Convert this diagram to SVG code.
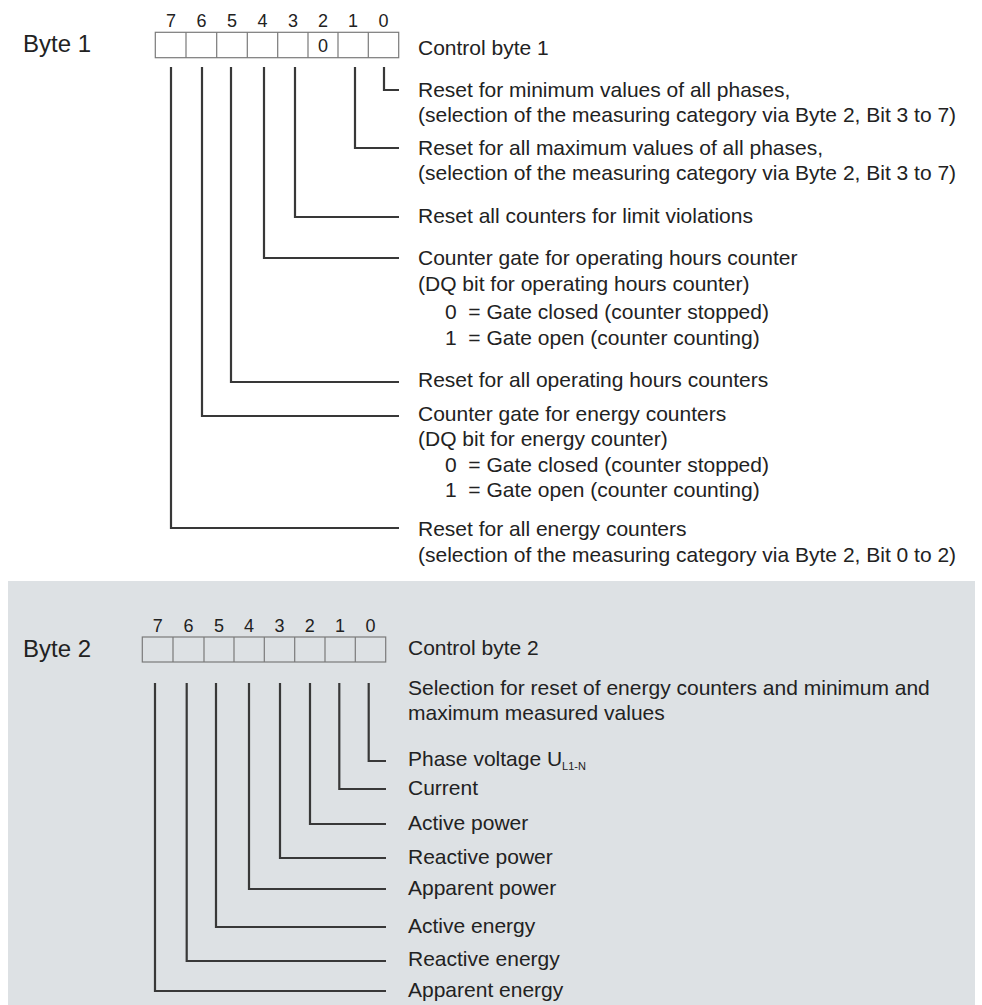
<svg xmlns="http://www.w3.org/2000/svg" width="982" height="1005" viewBox="0 0 982 1005">
<style>
text{font-family:"Liberation Sans",Arial,sans-serif;fill:#222}
.t{font-size:21px}
.b{font-size:24px}
.d{font-size:18px;text-anchor:middle}
.z{font-size:18px;text-anchor:middle}
.sub{font-size:11px}
.box{fill:none;stroke:#7a7a7a;stroke-width:1.2}
.ln{fill:none;stroke:#383838;stroke-width:2.2}
</style>
<rect x="8" y="581" width="967" height="424" fill="#dde1e4"/>
<g id="byte1">
<text class="b" x="23" y="52">Byte 1</text>
<text class="d" x="171" y="27">7</text><text class="d" x="201.5" y="27">6</text><text class="d" x="232" y="27">5</text><text class="d" x="262.5" y="27">4</text><text class="d" x="293" y="27">3</text><text class="d" x="323" y="27">2</text><text class="d" x="353" y="27">1</text><text class="d" x="383.5" y="27">0</text>
<rect class="box" x="155.3" y="32.3" width="243.4" height="25.4"/>
<path class="box" d="M186 32.3V57.7M216.7 32.3V57.7M247.3 32.3V57.7M277.7 32.3V57.7M308 32.3V57.7M338 32.3V57.7M368.3 32.3V57.7"/>
<text class="z" x="323" y="52">0</text>
<text class="t" x="418" y="55">Control byte 1</text>
</g>
<g id="b1-bit0"><text class="t" x="418" y="97">Reset for minimum values of all phases,</text><text class="t" x="418" y="122">(selection of the measuring category via Byte 2, Bit 3 to 7)</text></g>
<g id="b1-bit1"><text class="t" x="418" y="155">Reset for all maximum values of all phases,</text><text class="t" x="418" y="180">(selection of the measuring category via Byte 2, Bit 3 to 7)</text></g>
<g id="b1-bit3"><text class="t" x="418" y="223">Reset all counters for limit violations</text></g>
<g id="b1-bit4"><text class="t" x="418" y="265">Counter gate for operating hours counter</text><text class="t" x="418" y="291">(DQ bit for operating hours counter)</text><text class="t" x="445" y="319" xml:space="preserve">0  = Gate closed (counter stopped)</text><text class="t" x="445" y="345" xml:space="preserve">1  = Gate open (counter counting)</text></g>
<g id="b1-bit5"><text class="t" x="418" y="387">Reset for all operating hours counters</text></g>
<g id="b1-bit6"><text class="t" x="418" y="421">Counter gate for energy counters</text><text class="t" x="418" y="446">(DQ bit for energy counter)</text><text class="t" x="445" y="472" xml:space="preserve">0  = Gate closed (counter stopped)</text><text class="t" x="445" y="497" xml:space="preserve">1  = Gate open (counter counting)</text></g>
<g id="b1-bit7"><text class="t" x="418" y="536">Reset for all energy counters</text><text class="t" x="418" y="562">(selection of the measuring category via Byte 2, Bit 0 to 2)</text></g>
<g id="byte2">
<text class="b" x="23" y="657">Byte 2</text>
<text class="d" x="157.7" y="632">7</text><text class="d" x="188.5" y="632">6</text><text class="d" x="219" y="632">5</text><text class="d" x="249" y="632">4</text><text class="d" x="279.5" y="632">3</text><text class="d" x="309.8" y="632">2</text><text class="d" x="340" y="632">1</text><text class="d" x="370.5" y="632">0</text>
<rect class="box" x="142.3" y="637" width="243.4" height="25"/>
<path class="box" d="M173 637V662M204 637V662M234 637V662M264.3 637V662M294.7 637V662M325 637V662M355.3 637V662"/>
<text class="t" x="408" y="655">Control byte 2</text>
<text class="t" x="408" y="695">Selection for reset of energy counters and minimum and</text>
<text class="t" x="408" y="720">maximum measured values</text>
</g>
<g id="b2-bit0"><text class="t" x="408" y="766">Phase voltage U<tspan class="sub" dy="4">L1-N</tspan></text></g>
<g id="b2-bit1"><text class="t" x="408" y="795">Current</text></g>
<g id="b2-bit2"><text class="t" x="408" y="830">Active power</text></g>
<g id="b2-bit3"><text class="t" x="408" y="864">Reactive power</text></g>
<g id="b2-bit4"><text class="t" x="408" y="895">Apparent power</text></g>
<g id="b2-bit5"><text class="t" x="408" y="933">Active energy</text></g>
<g id="b2-bit6"><text class="t" x="408" y="966">Reactive energy</text></g>
<g id="b2-bit7"><text class="t" x="408" y="997">Apparent energy</text></g>
<g id="connectors" class="ln">
<path d="M384 67V90H399"/>
<path d="M355 67V148H399"/>
<path d="M295 67V217H399"/>
<path d="M264 67V258H399"/>
<path d="M231 67V382H399"/>
<path d="M202 67V416H399"/>
<path d="M171 67V528H399"/>
<path d="M368.7 683V761H386"/>
<path d="M339.3 683V789H386"/>
<path d="M310 683V824H386"/>
<path d="M280 683V858H386"/>
<path d="M249 683V889H386"/>
<path d="M216 683V927H386"/>
<path d="M186.7 683V961H386"/>
<path d="M155 683V991H386"/>
</g>
</svg>
